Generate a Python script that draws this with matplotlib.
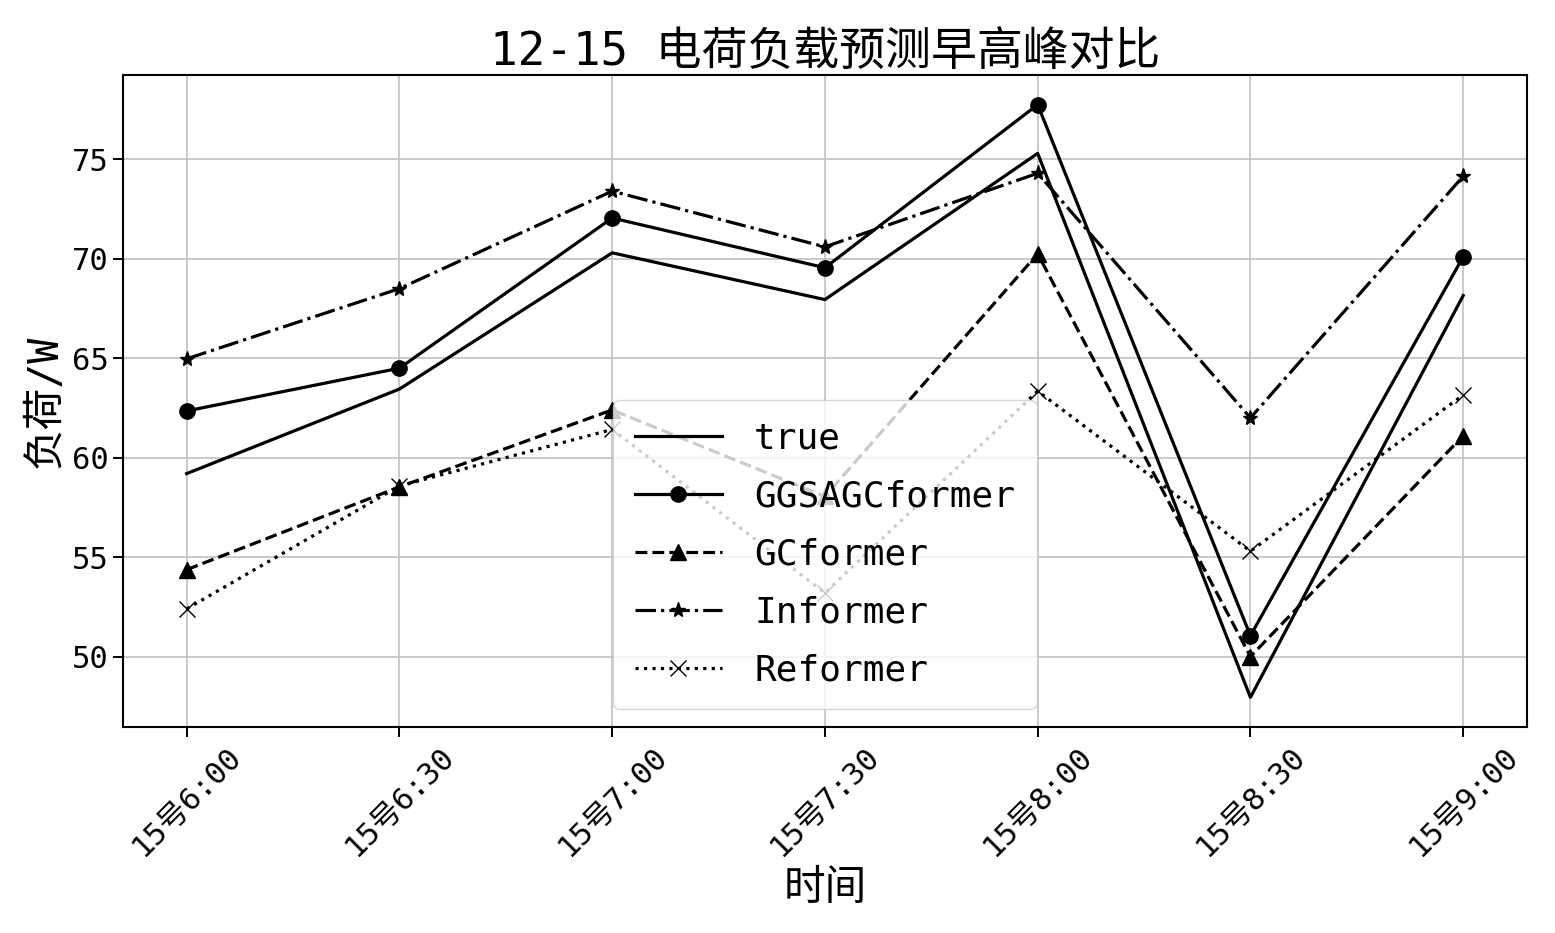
import matplotlib
matplotlib.use("Agg")
import matplotlib.pyplot as plt

plt.rcParams['font.family'] = ['DejaVu Sans Mono', 'Noto Sans CJK SC']
plt.rcParams['axes.unicode_minus'] = False

# 时间点
times = ["15号6:00", "15号6:30", "15号7:00", "15号7:30", "15号8:00", "15号8:30", "15号9:00"]

# 各模型数值
true_vals = [59.2, 63.45, 70.3, 67.95, 75.3, 47.95, 68.15]
ggsagc_vals = [62.35, 64.5, 72.05, 69.55, 77.75, 51.05, 70.1]
gcformer_vals = [54.37, 58.53, 62.4, 58.05, 70.25, 50.0, 61.1]
informer_vals = [64.97, 68.5, 73.4, 70.6, 74.3, 62.0, 74.15]
reformer_vals = [52.4, 58.58, 61.42, 53.2, 63.35, 55.3, 63.15]


def plot_peak():
    fig = plt.figure(figsize=(15.55, 9.33), dpi=100)
    ax = fig.add_subplot(111)
    fig.subplots_adjust(left=0.079, right=0.982, top=0.9196, bottom=0.2208)

    x = list(range(len(times)))
    ax.plot(x, true_vals, color='black', linestyle='-', linewidth=2.3, label='true')
    ax.plot(x, ggsagc_vals, color='black', linestyle='-', linewidth=2.3, marker='o', markersize=11, label='GGSAGCformer')
    ax.plot(x, gcformer_vals, color='black', linestyle='--', linewidth=2.3, marker='^', markersize=12, label='GCformer')
    ax.plot(x, informer_vals, color='black', linestyle='-.', linewidth=2.3, marker='*', markersize=11, label='Informer')
    ax.plot(x, reformer_vals, color='black', linestyle=':', linewidth=2.3, marker='x', markersize=11, label='Reformer')

    ax.set_xticks(x)
    ax.set_xticklabels(times, rotation=45, fontsize=22)
    ax.tick_params(axis='y', labelsize=22)
    ax.tick_params(length=7, width=1.4)
    for s in ax.spines.values():
        s.set_linewidth(1.5)

    ax.set_title("12-15 电荷负载预测早高峰对比", fontsize=33)
    ax.set_xlabel("时间", fontsize=30)
    ax.set_ylabel("负荷/W", fontsize=30)
    ax.grid(True, color='#c0c0c0', linewidth=1.2)
    ax.legend(loc='lower center', fontsize=26, handlelength=2.4, handletextpad=0.9,
              labelspacing=0.66, borderpad=0.6)

    fig.savefig("out.png", dpi=100)


if __name__ == '__main__':
    plot_peak()
